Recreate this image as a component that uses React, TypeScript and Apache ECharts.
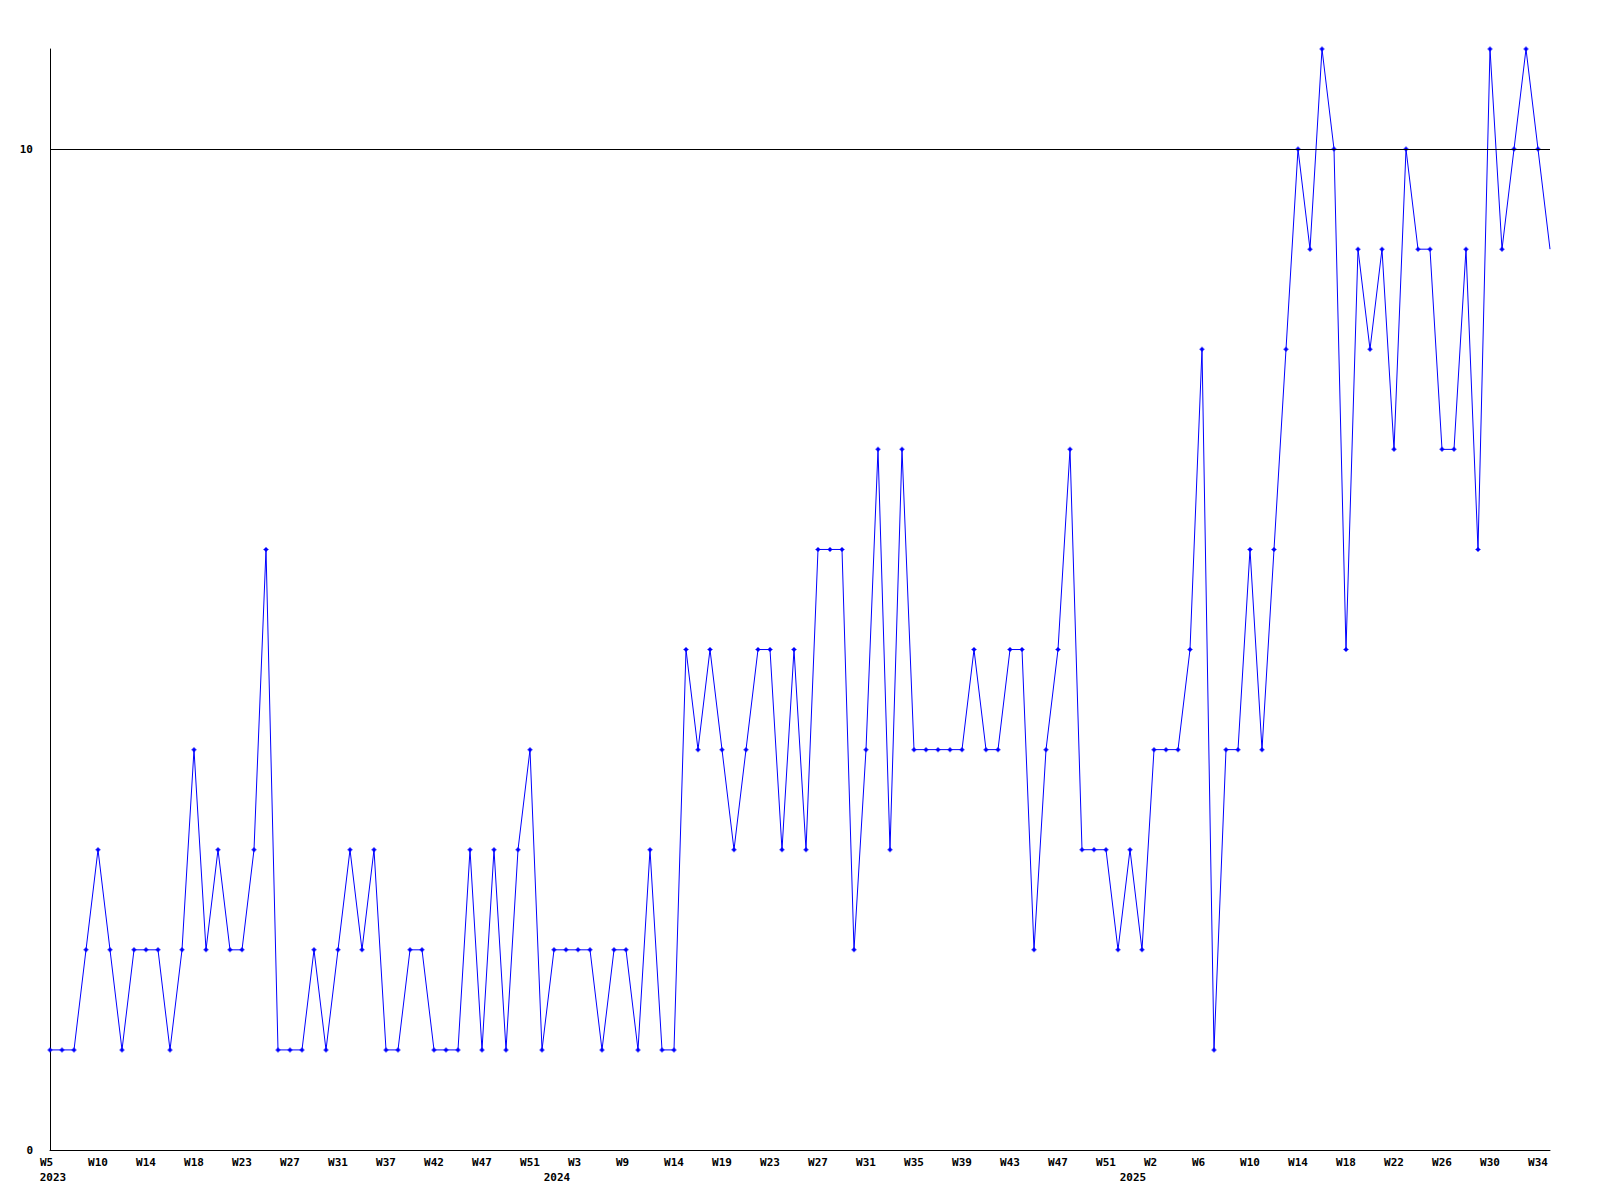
import React, { useEffect, useRef } from "react";
import * as echarts from "echarts";

// Week numbers present in the data, per year
const weeks2023 = [5, 6, 7, 9, 10, 11, 12, 13, 14, 15, 16, 17, 18, 19, 20, 22, 23, 24, 25, 26, 27, 28, 29, 30, 31, 32, 34, 35, 37, 38, 39, 41, 42, 43, 44, 46, 47, 48, 49, 50, 51, 52];
const weeks2024 = [1, 2, 3, 4, 6, 7, 9, 10, 11, 13, 14, 15, 16, 18, 19, 20, 21, 22, 23, 24, 25, 26, 27, 28, 29, 30, 31, 32, 33, 34, 35, 36, 37, 38, 39, 40, 41, 42, 43, 44, 45, 46, 47, 48, 49, 50, 51, 52];
const weeks2025 = [0, 1, 2, 3, 4, 5, 6, 7, 8, 9, 10, 11, 12, 13, 14, 15, 16, 17, 18, 19, 20, 21, 22, 23, 24, 25, 26, 27, 28, 29, 30, 31, 32, 33, 34, 35];
const years = ["2023", "2024", "2025"];

// weekly counts
const values = [
  1, 1, 1, 2, 3, 2, 1, 2, 2, 2,
  1, 2, 4, 2, 3, 2, 2, 3, 6, 1,
  1, 1, 2, 1, 2, 3, 2, 3, 1, 1,
  2, 2, 1, 1, 1, 3, 1, 3, 1, 3,
  4, 1, 2, 2, 2, 2, 1, 2, 2, 1,
  3, 1, 1, 5, 4, 5, 4, 3, 4, 5,
  5, 3, 5, 3, 6, 6, 6, 2, 4, 7,
  3, 7, 4, 4, 4, 4, 4, 5, 4, 4,
  5, 5, 2, 4, 5, 7, 3, 3, 3, 2,
  3, 2, 4, 4, 4, 5, 8, 1, 4, 4,
  6, 4, 6, 8, 10, 9, 11, 10, 5, 9,
  8, 9, 7, 10, 9, 9, 7, 7, 9, 6,
  11, 9, 10, 11, 10, 9,
];

const yTicks = [0, 10];
const refLineValue = 10;

const FONT = "DejaVu Sans Mono";

export default function App() {
  const ref = useRef<HTMLDivElement>(null);

  useEffect(() => {
    if (!ref.current) return;
    const chart = echarts.init(ref.current, null, { renderer: "svg" });

    const weekLists = [weeks2023, weeks2024, weeks2025];
    const categories: string[] = [];
    const weekOf: string[] = [];
    const yearStart: Record<number, string> = {};
    weekLists.forEach((list, yi) => {
      list.forEach((w, k) => {
        if (k === 0) yearStart[categories.length] = years[yi];
        categories.push(`${years[yi]}-W${w}`);
        weekOf.push(`W${w}`);
      });
    });

    const seriesData = values.map((v, i) =>
      i === values.length - 1 ? { value: v, symbol: "none" } : v
    );

    const labelBase = {
      color: "#000",
      fontFamily: FONT,
      fontWeight: "bold",
      fontSize: 11,
    };

    chart.setOption({
      animation: false,
      backgroundColor: "#ffffff",
      grid: { left: 50, right: 50, top: 49, bottom: 50, containLabel: false },
      xAxis: [
        {
          type: "category",
          data: categories,
          boundaryGap: false,
          position: "bottom",
          axisLine: { show: true, lineStyle: { color: "#000", width: 1 } },
          axisTick: { show: false },
          splitLine: { show: false },
          axisLabel: {
            ...labelBase,
            interval: (i: number) => i % 4 === 0,
            formatter: (_v: string, i: number) => {
              const t = weekOf[i];
              return t.length === 2 ? `{s|${t}}` : `{l|${t}}`;
            },
            rich: {
              s: { ...labelBase, padding: [0, 7, 0, 0] },
              l: { ...labelBase, padding: [0, 0, 0, 0] },
            },
            margin: 7,
          },
        },
        {
          type: "category",
          data: categories,
          boundaryGap: false,
          position: "bottom",
          axisLine: { show: false },
          axisTick: { show: false },
          splitLine: { show: false },
          axisLabel: {
            ...labelBase,
            interval: (i: number) => yearStart[i] !== undefined,
            formatter: (_v: string, i: number) => {
              const y = yearStart[i];
              return y ? `{y|${y}}` : "";
            },
            rich: {
              y: { ...labelBase, padding: [0, 0, 0, 6] },
            },
            margin: 22,
          },
        },
      ],
      yAxis: {
        type: "value",
        min: 0,
        max: 11,
        interval: 10,
        axisLine: { show: true, lineStyle: { color: "#000", width: 1 } },
        axisTick: { show: false },
        splitLine: { show: false },
        axisLabel: {
          ...labelBase,
          formatter: (v: number) => (yTicks.includes(v) ? String(v) : ""),
          margin: 17,
        },
      },
      series: [
        {
          type: "line",
          xAxisIndex: 0,
          data: seriesData,
          showAllSymbol: true,
          symbol: "path://M2,0H3V1H4V2H5V3H4V4H3V5H2V4H1V3H0V2H1V1H2Z",
          symbolSize: 5,
          itemStyle: { color: "#0000ff" },
          lineStyle: { color: "#0000ff", width: 1 },
          emphasis: { disabled: true },
          markLine: {
            silent: true,
            symbol: ["none", "none"],
            label: { show: false },
            lineStyle: { color: "#000", width: 1, type: "solid" },
            data: [{ yAxis: refLineValue }],
          },
          z: 3,
        },
      ],
    });

    return () => chart.dispose();
  }, []);

  return (
    <div
      ref={ref}
      style={{ position: "fixed", left: 0, top: 0, width: 1600, height: 1200, background: "#fff" }}
    />
  );
}
